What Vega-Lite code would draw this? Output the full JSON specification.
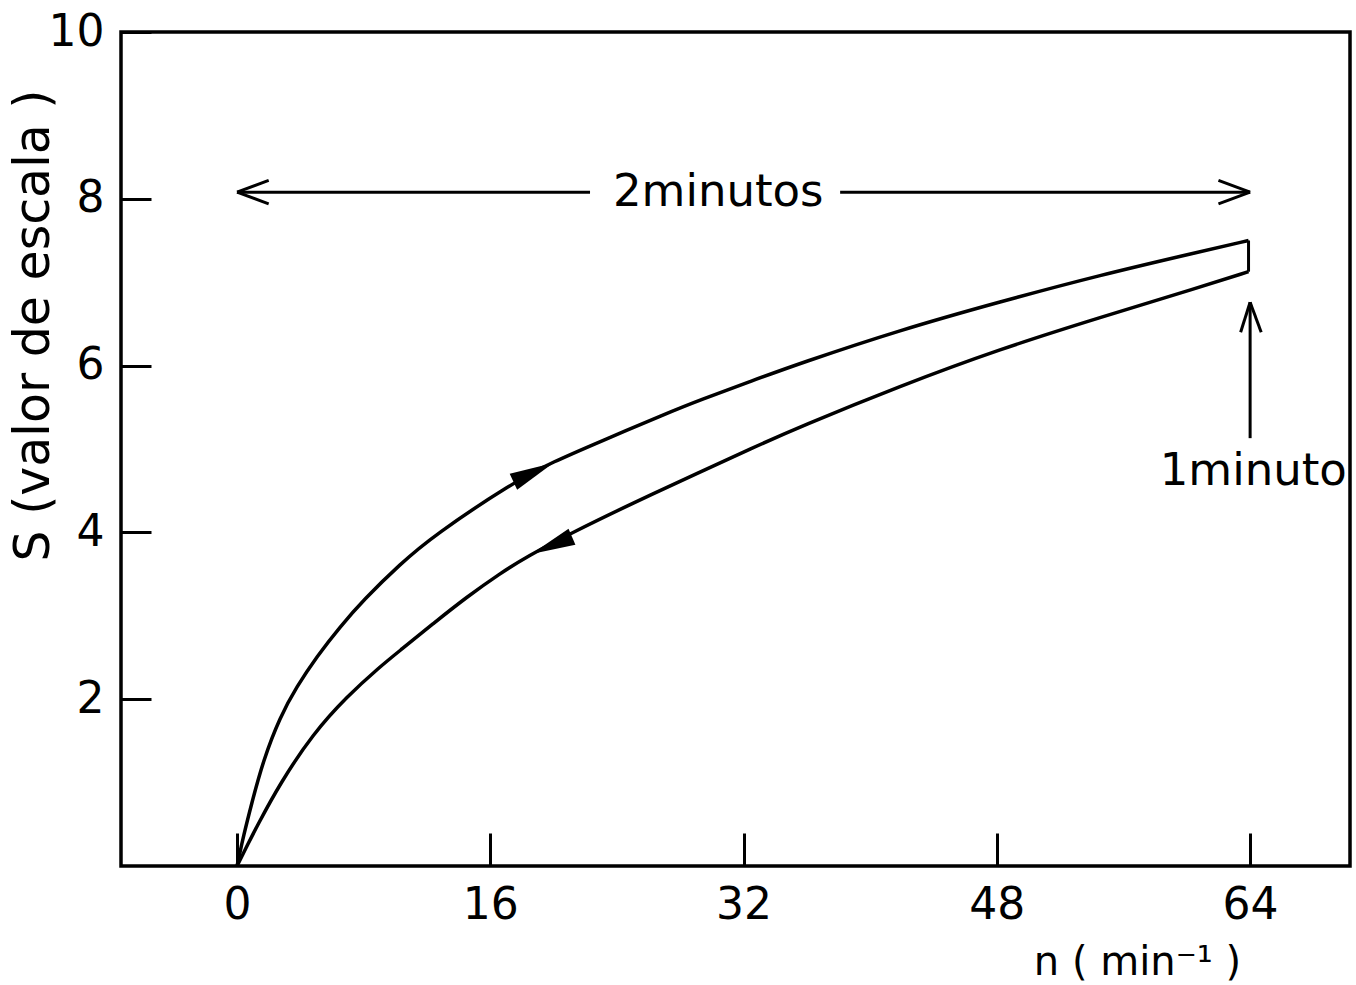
{
  "$schema": "https://vega.github.io/schema/vega-lite/v6.json",
  "width": 1229,
  "height": 834,
  "autosize": {"type": "none"},
  "padding": {"left": 121, "top": 32, "right": 6, "bottom": 119},
  "background": "white",
  "config": {
    "view": {"stroke": "black", "strokeWidth": 3.5},
    "font": "DejaVu Sans",
    "axis": {
      "grid": false,
      "domain": false,
      "tickColor": "black",
      "tickWidth": 3,
      "labelColor": "black",
      "labelFont": "DejaVu Sans",
      "labelFontSize": 44,
      "titleFont": "DejaVu Sans",
      "titleFontWeight": "normal",
      "titleColor": "black"
    }
  },
  "datasets": {
    "curves": [
      {"seg": "up", "n": 0, "S": 0},
      {"seg": "up", "n": 0.19, "S": 0.168},
      {"seg": "up", "n": 0.4, "S": 0.351},
      {"seg": "up", "n": 0.88, "S": 0.719},
      {"seg": "up", "n": 1.66, "S": 1.271},
      {"seg": "up", "n": 2.72, "S": 1.79},
      {"seg": "up", "n": 3.77, "S": 2.15},
      {"seg": "up", "n": 5.03, "S": 2.51},
      {"seg": "up", "n": 6.51, "S": 2.869},
      {"seg": "up", "n": 7.98, "S": 3.189},
      {"seg": "up", "n": 10.3, "S": 3.62},
      {"seg": "up", "n": 12.4, "S": 3.96},
      {"seg": "up", "n": 17.45, "S": 4.6},
      {"seg": "up", "n": 19.98, "S": 4.848},
      {"seg": "up", "n": 22.93, "S": 5.088},
      {"seg": "up", "n": 27.14, "S": 5.428},
      {"seg": "up", "n": 29.25, "S": 5.588},
      {"seg": "up", "n": 32.41, "S": 5.809},
      {"seg": "up", "n": 35.57, "S": 6.028},
      {"seg": "up", "n": 41.88, "S": 6.427},
      {"seg": "up", "n": 48.2, "S": 6.766},
      {"seg": "up", "n": 54.52, "S": 7.086},
      {"seg": "up", "n": 60.83, "S": 7.366},
      {"seg": "up", "n": 63.9, "S": 7.5},
      {"seg": "down", "n": 0, "S": 0},
      {"seg": "down", "n": 0.714, "S": 0.272},
      {"seg": "down", "n": 1.244, "S": 0.471},
      {"seg": "down", "n": 2.716, "S": 0.991},
      {"seg": "down", "n": 4.82, "S": 1.591},
      {"seg": "down", "n": 6.93, "S": 2.03},
      {"seg": "down", "n": 9.03, "S": 2.39},
      {"seg": "down", "n": 10.3, "S": 2.584},
      {"seg": "down", "n": 12.4, "S": 2.908},
      {"seg": "down", "n": 14.51, "S": 3.225},
      {"seg": "down", "n": 16.61, "S": 3.507},
      {"seg": "down", "n": 18.32, "S": 3.711},
      {"seg": "down", "n": 21.24, "S": 4.005},
      {"seg": "down", "n": 25.03, "S": 4.353},
      {"seg": "down", "n": 29.25, "S": 4.724},
      {"seg": "down", "n": 32.41, "S": 5.0},
      {"seg": "down", "n": 35.57, "S": 5.267},
      {"seg": "down", "n": 41.88, "S": 5.755},
      {"seg": "down", "n": 48.2, "S": 6.199},
      {"seg": "down", "n": 54.52, "S": 6.577},
      {"seg": "down", "n": 60.83, "S": 6.942},
      {"seg": "down", "n": 63.9, "S": 7.126}
    ],
    "segments": [
      {"n1": 63.9, "S1": 7.5, "n2": 63.9, "S2": 7.126},
      {"n1": 0, "S1": 8.08, "n2": 22.3, "S2": 8.08},
      {"n1": 0, "S1": 8.08, "n2": 2.0, "S2": 8.22},
      {"n1": 0, "S1": 8.08, "n2": 2.0, "S2": 7.94},
      {"n1": 38.1, "S1": 8.08, "n2": 64, "S2": 8.08},
      {"n1": 64, "S1": 8.08, "n2": 62.0, "S2": 8.22},
      {"n1": 64, "S1": 8.08, "n2": 62.0, "S2": 7.94},
      {"n1": 64, "S1": 6.76, "n2": 64, "S2": 5.13},
      {"n1": 64, "S1": 6.76, "n2": 63.4, "S2": 6.4},
      {"n1": 64, "S1": 6.76, "n2": 64.7, "S2": 6.4}
    ],
    "labels": [
      {"n": 30.4, "S": 8.08, "label": "2minutos"},
      {"n": 64.2, "S": 4.74, "label": "1minuto"}
    ]
  },
  "layer": [
    {
      "data": {"name": "curves"},
      "mark": {"type": "line", "interpolate": "basis", "color": "black", "strokeWidth": 3.5},
      "encoding": {
        "x": {
          "field": "n", "type": "quantitative",
          "scale": {"domain": [-7.33, 70.31], "nice": false, "zero": false},
          "axis": {
            "values": [0, 16, 32, 48, 64],
            "format": "d",
            "tickSize": -33,
            "labelPadding": 50,
            "title": "n ( min⁻¹ )",
            "titleFontSize": 40,
            "titleX": 1016,
            "titleY": 108,
            "titleAlign": "center",
            "titleBaseline": "alphabetic"
          }
        },
        "y": {
          "field": "S", "type": "quantitative",
          "scale": {"domain": [0, 10], "nice": false},
          "axis": {
            "values": [2, 4, 6, 8, 10],
            "format": "d",
            "tickSize": -30,
            "labelPadding": 47,
            "title": "S (valor de escala )",
            "titleFontSize": 49,
            "titleAngle": 270,
            "titleX": -88,
            "titleY": 293,
            "titleAlign": "center",
            "titleBaseline": "middle"
          }
        },
        "detail": {"field": "seg"},
        "order": {"field": "n", "type": "quantitative"}
      }
    },
    {
      "data": {"name": "segments"},
      "mark": {"type": "rule", "color": "black", "strokeWidth": 3},
      "encoding": {
        "x": {"field": "n1", "type": "quantitative"},
        "y": {"field": "S1", "type": "quantitative"},
        "x2": {"field": "n2"},
        "y2": {"field": "S2"}
      }
    },
    {
      "data": {"values": [{"n": 18.72, "S": 4.72}]},
      "mark": {"type": "point", "shape": "M1,0L-1,-0.4L-1,0.4Z", "size": 1936, "angle": 335, "filled": true, "color": "black", "opacity": 1},
      "encoding": {
        "x": {"field": "n", "type": "quantitative"},
        "y": {"field": "S", "type": "quantitative"}
      }
    },
    {
      "data": {"values": [{"n": 19.88, "S": 3.845}]},
      "mark": {"type": "point", "shape": "M1,0L-1,-0.4L-1,0.4Z", "size": 1936, "angle": 157, "filled": true, "color": "black", "opacity": 1},
      "encoding": {
        "x": {"field": "n", "type": "quantitative"},
        "y": {"field": "S", "type": "quantitative"}
      }
    },
    {
      "data": {"name": "labels"},
      "mark": {"type": "text", "fontSize": 45, "color": "black", "align": "center", "baseline": "middle", "font": "DejaVu Sans"},
      "encoding": {
        "x": {"field": "n", "type": "quantitative"},
        "y": {"field": "S", "type": "quantitative"},
        "text": {"field": "label"}
      }
    }
  ]
}
